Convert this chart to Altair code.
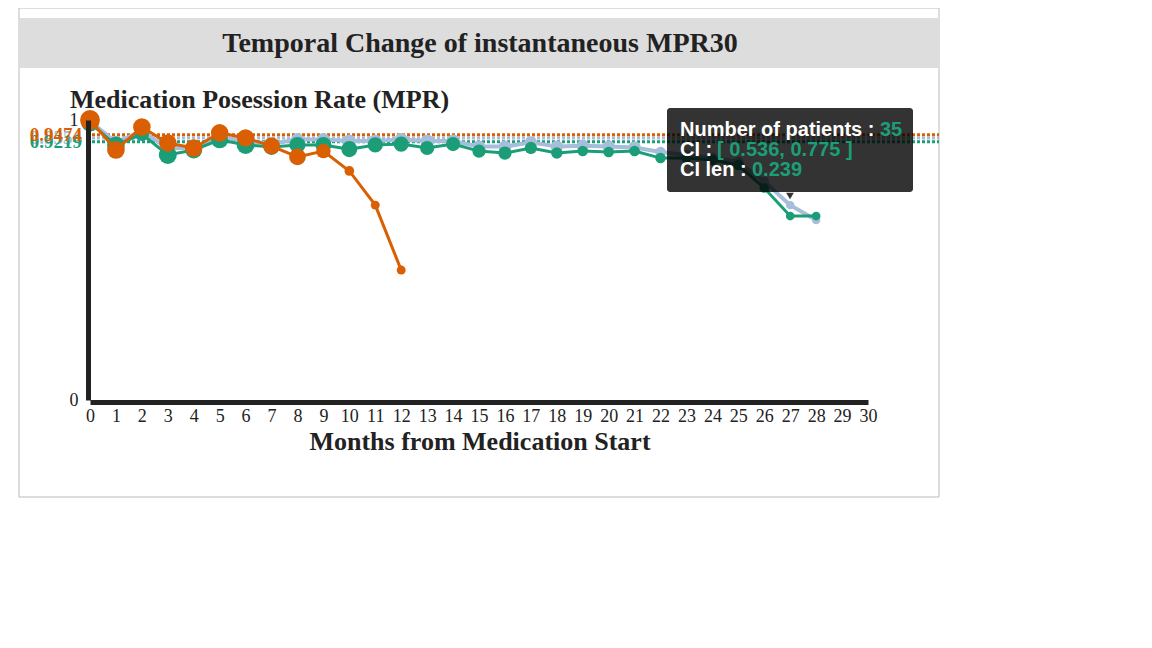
import altair as alt
import pandas as pd

# ---------------- data ----------------
orange_months = list(range(13))
orange_mpr = [1.0, 0.893, 0.975, 0.918, 0.900, 0.954, 0.936, 0.907, 0.868, 0.889, 0.818, 0.696, 0.464]
orange_n = [392, 300, 300, 290, 290, 300, 285, 275, 265, 190, 60, 45, 45]

green_months = list(range(29))
green_mpr = [0.990, 0.910, 0.950, 0.875, 0.893, 0.929, 0.911, 0.904, 0.911, 0.911,
             0.896, 0.911, 0.914, 0.900, 0.914, 0.889, 0.882, 0.900, 0.882, 0.889,
             0.886, 0.889, 0.864, 0.864, 0.857, 0.839, 0.757, 0.657, 0.657]
green_n = [300, 300, 180, 312, 276, 276, 312, 241, 241, 241,
           241, 210, 210, 179, 179, 150, 150, 124, 100, 78,
           78, 78, 78, 78, 78, 78, 58, 40, 40]

blue_months = list(range(29))
blue_mpr = [0.995, 0.920, 0.960, 0.900, 0.900, 0.940, 0.925, 0.915, 0.930, 0.930,
            0.925, 0.925, 0.930, 0.925, 0.925, 0.905, 0.905, 0.920, 0.905, 0.908,
            0.905, 0.902, 0.886, 0.875, 0.865, 0.850, 0.780, 0.696, 0.643]
blue_n = [150, 150, 150, 150, 150, 150, 150, 150, 150, 150,
          150, 150, 150, 150, 150, 124, 124, 124, 124, 124,
          124, 124, 78, 78, 78, 78, 58, 35, 35]

series_names = ["overall", "group B", "group A"]
series_colors = ["#a6bddb", "#1b9e77", "#d95f02"]
mean_values = [0.9354, 0.9219, 0.9474]
mean_labels = ["0.9354", "0.9219", "0.9474"]

x_ticks = list(range(31))
y_ticks = [0, 1]

tip_lines = ["Number of patients : ", "CI : ", "CI len : "]
tip_values = ["35", "[ 0.536, 0.775 ]", "0.239"]

SERIF = "Liberation Serif"
SANS = "Liberation Sans"

xs = alt.Scale(domain=[0, 30])
ys = alt.Scale(domain=[0, 1])

XAX = alt.Axis(values=x_ticks, title=None, format="d",
               labelFont=SERIF, labelFontSize=18, labelColor="#222222", labelPadding=5,
               domainColor="#222222", domainWidth=5, ticks=False, grid=False, offset=2,
               labelOverlap=False, labelFlush=False, labelBound=False, zindex=1)
YAX = alt.Axis(values=y_ticks, title=None, format="d",
               labelFont=SERIF, labelFontSize=18, labelColor="#222222", labelPadding=10,
               domainColor="#222222", domainWidth=5, ticks=False, grid=False, offset=2,
               labelOverlap=False, labelFlush=False, zindex=1)

one = pd.DataFrame({"a": [0]})

layers = []

# frame and title band
layers.append(alt.Chart(one).mark_rect(fill="white", stroke="#bbbbbb", strokeWidth=1).encode(
    x=alt.value(-71), x2=alt.value(849), y=alt.value(-112), y2=alt.value(377)))
layers.append(alt.Chart(one).mark_rect(fill="#dddddd").encode(
    x=alt.value(-70), x2=alt.value(849), y=alt.value(-102), y2=alt.value(-52)))
layers.append(alt.Chart(one).mark_text(
    text="Temporal Change of instantaneous MPR30", font=SERIF, fontSize=28,
    fontWeight="bold", color="#222222", align="center", baseline="middle").encode(
    x=alt.value(390), y=alt.value(-76)))
layers.append(alt.Chart(one).mark_text(
    text="Medication Posession Rate (MPR)", font=SERIF, fontSize=26,
    fontWeight="bold", color="#222222", align="left", baseline="middle").encode(
    x=alt.value(-20), y=alt.value(-20)))
layers.append(alt.Chart(one).mark_text(
    text="Months from Medication Start", font=SERIF, fontSize=26,
    fontWeight="bold", color="#222222", align="center", baseline="middle").encode(
    x=alt.value(390), y=alt.value(322)))

# axes (domain lines + labels) via an invisible layer
axis_df = pd.DataFrame({"month": x_ticks, "mpr": [0.5] * len(x_ticks)})
layers.append(alt.Chart(axis_df).mark_point(opacity=0).encode(
    x=alt.X("month:Q", scale=xs, axis=XAX),
    y=alt.Y("mpr:Q", scale=ys, axis=YAX),
))

# mean dotted lines + labels
mean_df = pd.DataFrame({"series": series_names, "mean": mean_values, "label": mean_labels})
color_scale = alt.Scale(domain=series_names, range=series_colors)
layers.append(alt.Chart(mean_df).mark_rule(strokeWidth=3, strokeDash=[3, 2]).encode(
    x=alt.value(-3), x2=alt.value(849), y=alt.Y("mean:Q", scale=ys, axis=YAX),
    color=alt.Color("series:N", scale=color_scale, legend=None)))
layers.append(alt.Chart(mean_df).mark_text(font=SERIF, fontSize=19, fontWeight="bold",
                                           align="right", baseline="middle").encode(
    x=alt.value(-8), y=alt.Y("mean:Q", scale=ys, axis=YAX), text="label:N",
    color=alt.Color("series:N", scale=color_scale, legend=None)))

size_scale = alt.Scale(domain=[0, 400], range=[40, 400])
for name, col, m, v, n, sw in [
    ("overall", series_colors[0], blue_months, blue_mpr, blue_n, 4),
    ("group B", series_colors[1], green_months, green_mpr, green_n, 3),
    ("group A", series_colors[2], orange_months, orange_mpr, orange_n, 3),
]:
    df = pd.DataFrame({"month": m, "mpr": v, "n": n})
    base = alt.Chart(df)
    layers.append(base.mark_line(color=col, strokeWidth=sw).encode(
        x=alt.X("month:Q", scale=xs, axis=XAX), y=alt.Y("mpr:Q", scale=ys, axis=YAX)))
    layers.append(base.mark_circle(color=col, opacity=1).encode(
        x=alt.X("month:Q", scale=xs, axis=XAX), y=alt.Y("mpr:Q", scale=ys, axis=YAX),
        size=alt.Size("n:Q", scale=size_scale, legend=None)))

# tooltip box
layers.append(alt.Chart(one).mark_rect(fill="black", opacity=0.8, cornerRadius=3).encode(
    x=alt.value(577), x2=alt.value(823), y=alt.value(-12), y2=alt.value(72)))
layers.append(alt.Chart(one).mark_point(shape="triangle-down", filled=True, fill="black",
                                        opacity=0.8, size=60).encode(
    x=alt.value(700), y=alt.value(76)))
tip_y = [10, 30, 50]
tip_vx = [790, 627, 662]
for i in range(3):
    layers.append(alt.Chart(one).mark_text(text=tip_lines[i], font=SANS, fontSize=20,
                  fontWeight="bold", color="white", align="left", baseline="middle").encode(
        x=alt.value(590), y=alt.value(tip_y[i])))
    layers.append(alt.Chart(one).mark_text(text=tip_values[i], font=SANS, fontSize=20,
                  fontWeight="bold", color="#1b9e77", align="left", baseline="middle").encode(
        x=alt.value(tip_vx[i]), y=alt.value(tip_y[i])))

chart = alt.layer(*layers).properties(
    width=778, height=280,
    autosize=alt.AutoSizeParams(type="none"),
    padding={"left": 82, "top": 112, "right": 80, "bottom": 120},
).configure_view(stroke=None).configure_axis(labelOverlap=False)

chart.save("out.html", embed_options={"renderer": "svg", "actions": False})
